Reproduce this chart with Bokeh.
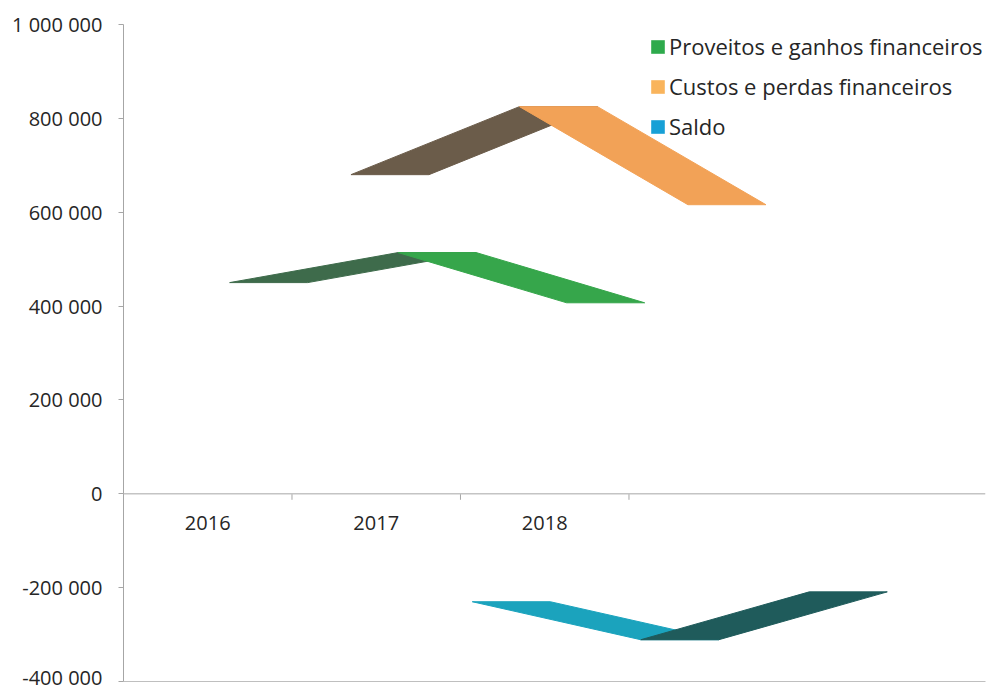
import math
from bokeh.plotting import figure
from bokeh.models import Range1d, FixedTicker, Legend, LegendItem, Span
from bokeh.core.properties import value
from bokeh.embed import file_html
from bokeh.resources import INLINE

# ---------------- data ----------------
categories = ["2016", "2017", "2018"]
series_names = ["Proveitos e ganhos financeiros", "Custos e perdas financeiros", "Saldo"]
proveitos = [450000, 514000, 407000]
custos = [680000, 825000, 616000]
saldo = [-230000, -311000, -209000]
y_ticks = [-400000, -200000, 0, 200000, 400000, 600000, 800000, 1000000]
y_tick_labels = ["-400 000", "-200 000", "0", "200 000", "400 000", "600 000", "800 000", "1 000 000"]

# ---------------- style ----------------
FONT = "Open Sans"
TEXT = "#262626"
light = ["#36a64b", "#f2a257", "#1ba3bd"]
dark = ["#3e6b4b", "#6b5c4a", "#1f5b5b"]
legend_colors = ["#2eaa4c", "#f9b45c", "#17a0d6"]
depth_offset = [0.13, 0.85, 1.57]   # 3-D depth shift of each series (category units)
ribbon_w = 0.463                    # ribbon depth (category units)

p = figure(width=988, height=690,
           x_range=Range1d(0, 5.116), y_range=Range1d(-400000, 1000000),
           output_backend="svg", toolbar_location=None,
           min_border_left=123, min_border_right=3, min_border_top=24, min_border_bottom=9)
p.grid.visible = False
p.outline_line_color = None
p.background_fill_color = "white"
p.border_fill_color = "white"

# y axis
p.yaxis.ticker = FixedTicker(ticks=y_ticks)
p.yaxis.major_label_overrides = dict(zip(y_ticks, y_tick_labels))
p.yaxis.major_tick_out = 5
p.yaxis.major_tick_in = 0
p.yaxis.minor_tick_line_color = None
p.yaxis.axis_line_color = "#a6a6a6"
p.yaxis.major_tick_line_color = "#a6a6a6"
p.yaxis.major_label_text_font = FONT
p.yaxis.major_label_text_font_size = "20px"
p.yaxis.major_label_text_color = TEXT
p.yaxis.major_label_standoff = 16

# floor line (bottom axis without ticks)
p.xaxis.ticker = FixedTicker(ticks=[])
p.xaxis.major_label_text_font_size = "0px"
p.xaxis.major_tick_line_color = None
p.xaxis.minor_tick_line_color = None
p.xaxis.axis_line_color = "#bfbfbf"

# zero line with category ticks and labels
p.add_layout(Span(location=0, dimension="width", line_color="#c4c4c4", line_width=1.5))
bounds = list(range(len(categories) + 1))
p.ray(x=bounds, y=[0] * len(bounds), length=6, length_units="screen",
      angle=-math.pi / 2, line_color="#a6a6a6", line_width=1)
centers = [i + 0.5 for i in range(len(categories))]
p.text(x=centers, y=[0] * len(categories), text=categories, y_offset=29,
       text_align="center", text_baseline="middle",
       text_font=value(FONT), text_font_size="20px", text_color=TEXT)

# 3-D ribbons
xs, ys, fills = [], [], []
for s, vals in enumerate([proveitos, custos, saldo]):
    for i in range(len(vals) - 1):
        x0 = centers[i] + depth_offset[s]
        x1 = centers[i + 1] + depth_offset[s]
        xs.append([x0, x1, x1 + ribbon_w, x0 + ribbon_w])
        ys.append([vals[i], vals[i + 1], vals[i + 1], vals[i]])
        fills.append(dark[s] if vals[i + 1] > vals[i] else light[s])
p.patches(xs=xs, ys=ys, fill_color=fills, line_color=fills, line_width=1)

# legend
nan = float("nan")
items = []
for name, c in zip(series_names, legend_colors):
    r = p.quad(left=[nan], right=[nan], top=[nan], bottom=[nan], fill_color=c, line_color=None)
    items.append(LegendItem(label=name, renderers=[r]))
legend = Legend(items=items, location=(526, 540),
                border_line_color=None, background_fill_alpha=0,
                label_text_font=FONT, label_text_font_size="22px", label_text_color=TEXT,
                glyph_width=17, glyph_height=17, label_standoff=3,
                spacing=10, padding=9, margin=0)
p.add_layout(legend)

open("out.html", "w").write(file_html(p, INLINE))
